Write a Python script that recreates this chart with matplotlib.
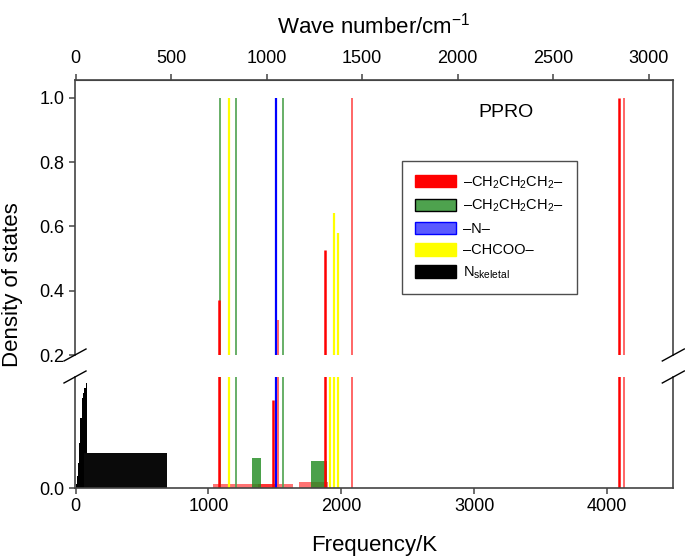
'''
    Density of states of PPRO with a broken y axis
'''

from matplotlib import pyplot as plt
from matplotlib.patches import Patch
import numpy as np

plt.rcParams['font.family'] = ['Liberation Sans', 'DejaVu Sans']
plt.rcParams['mathtext.fontset'] = 'custom'
plt.rcParams['mathtext.rm'] = 'Liberation Sans'
plt.rcParams['mathtext.it'] = 'Liberation Sans:italic'

K_PER_CM = 1.4388

# vertical lines (frequency in K, density of states)
red_k = [1078, 1877, 4095]
red_h = [0.37, 0.525, 1.0]
red_lt_k = [1523, 2082, 4130]
red_lt_h = [0.31, 1.0, 1.0]
green_k = [1090, 1209, 1560]
green_h = [1.0, 1.0, 1.0]
yellow_k = [1156, 1916, 1947, 1974]
yellow_h = [1.0, 0.15, 0.64, 0.58]
blue_k = [1507]
blue_h = [1.0]
red_spike_k = [1490]
red_spike_h = [0.079]

# broad bands (from, to, height)
red_band_lo = [1038, 1377, 1683]
red_band_hi = [1640, 1523, 1904]
red_band_h = [0.0033, 0.0036, 0.0054]
green_band_lo = [1327, 1773]
green_band_hi = [1399, 1892]
green_band_h = [0.027, 0.024]

# skeletal modes
skel_edges = [0, 9, 18, 27, 36, 45, 54, 65, 78, 89]
skel_h = [0.0036, 0.0108, 0.0225, 0.0405, 0.063, 0.081, 0.0856, 0.090, 0.0946]
skel_band_lo = [64]
skel_band_hi = [691]
skel_band_h = [0.0315]

legend_labels = [r'–CH$_2$CH$_2$CH$_2$–', r'–CH$_2$CH$_2$CH$_2$–', '–N–',
                 '–CHCOO–', r'N$_{\mathrm{skeletal}}$']

RED = '#ff0000'
RED_LT = '#ff5a5a'
GREEN = '#4ea24e'
YELLOW = '#ffff00'
BLUE = '#0000ff'
SPINE = '#444444'


def bands(ax, lo, hi, h, **kw):
    lo = np.array(lo)
    hi = np.array(hi)
    ax.bar(lo, h, width=hi - lo, align='edge', linewidth=0, **kw)


def draw(ax):
    skel = np.array(skel_edges)
    ax.bar(skel[:-1], skel_h, width=np.diff(skel), align='edge',
           color='black', linewidth=0)
    bands(ax, skel_band_lo, skel_band_hi, skel_band_h, color='#0a0a0a')
    bands(ax, red_band_lo, red_band_hi, red_band_h, color=RED, alpha=0.55)
    bands(ax, green_band_lo, green_band_hi, green_band_h, color='#1e8a1e', alpha=0.8)
    ax.vlines(red_spike_k, 0, red_spike_h, color=RED, lw=1.8)
    ax.vlines(green_k, 0, green_h, color=GREEN, lw=1.2)
    ax.vlines(yellow_k, 0, yellow_h, color=YELLOW, lw=1.6)
    ax.vlines(blue_k, 0, blue_h, color=BLUE, lw=1.6)
    ax.vlines(red_lt_k, 0, red_lt_h, color=RED_LT, lw=1.3)
    ax.vlines(red_k, 0, red_h, color=RED, lw=1.8)


def main():
    fig = plt.figure(figsize=(6.85, 5.59), dpi=100)
    ax_top = fig.add_axes([0.1095, 0.3649, 0.8734, 0.4920])
    ax_bot = fig.add_axes([0.1095, 0.1270, 0.8734, 0.1986])

    for ax in (ax_top, ax_bot):
        draw(ax)
        ax.set_xlim(-4, 4500)
        for s in ax.spines.values():
            s.set_color(SPINE)
            s.set_linewidth(1.2)
        ax.tick_params(labelsize=13, length=4, width=1.1, color=SPINE)

    ax_top.set_ylim(0.2, 1.055)
    ax_top.set_yticks([0.2, 0.4, 0.6, 0.8, 1.0])
    ax_top.set_yticklabels(['0.2', '0.4', '0.6', '0.8', '1.0'])
    ax_top.spines['bottom'].set_visible(False)
    ax_top.tick_params(axis='x', bottom=False, labelbottom=False)

    ax_bot.set_ylim(0, 0.1)
    ax_bot.set_yticks([0.0])
    ax_bot.set_yticklabels(['0.0'])
    ax_bot.spines['top'].set_visible(False)
    ax_bot.set_xticks([0, 1000, 2000, 3000, 4000])
    ax_bot.set_xlabel('Frequency/K', fontsize=16, labelpad=14)

    sec = ax_top.secondary_xaxis('top', functions=(lambda k: k / K_PER_CM,
                                                   lambda c: c * K_PER_CM))
    sec.set_xticks([0, 500, 1000, 1500, 2000, 2500, 3000])
    sec.tick_params(labelsize=13, length=4, width=1.1, color=SPINE, pad=5)
    sec.spines['top'].set_color(SPINE)
    sec.set_xlabel('Wave number/cm$^{-1}$', fontsize=16, labelpad=12)

    ax_top.text(0.72, 0.88, 'PPRO', transform=ax_top.transAxes,
                fontsize=14, ha='center', va='center')

    fig.text(0.018, 0.49, 'Density of states', rotation=90,
             fontsize=16, ha='center', va='center')

    # break marks
    W, H = 685.0, 559.0
    for xs in (75.0, 673.3):
        for ys in (355.0, 377.0):
            fig.add_artist(plt.Line2D([(xs - 11) / W, (xs + 11) / W],
                                      [1 - (ys + 6) / H, 1 - (ys - 6) / H],
                                      color='black', lw=1.0))

    handles = [Patch(facecolor=RED, edgecolor=RED),
               Patch(facecolor=GREEN, edgecolor='black', linewidth=1.0),
               Patch(facecolor='#5a5aff', edgecolor=BLUE),
               Patch(facecolor=YELLOW, edgecolor=YELLOW),
               Patch(facecolor='black', edgecolor='black')]
    leg = fig.legend(handles, legend_labels, loc='upper left',
                     bbox_to_anchor=(0.587, 0.712), fontsize=10.5,
                     frameon=True, fancybox=False, handlelength=2.8,
                     handleheight=0.95, handletextpad=0.5, labelspacing=0.5,
                     borderpad=0.9, borderaxespad=0)
    leg.get_frame().set_edgecolor('#222222')
    leg.get_frame().set_linewidth(1.0)

    fig.savefig('out.png', dpi=100)
    plt.close(fig)


if __name__ == '__main__': main()
